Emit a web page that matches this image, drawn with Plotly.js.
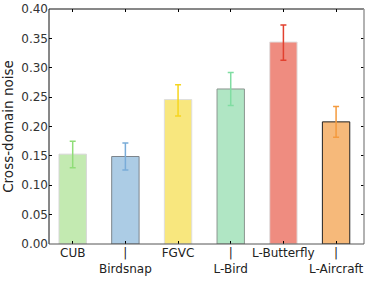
<!DOCTYPE html>
<html>
<head>
<meta charset="utf-8">
<script src="https://cdn.plot.ly/plotly-3.0.1.min.js"></script>
<style>html,body{margin:0;padding:0;background:#fff;}#chart{width:366px;height:281px;}</style>
</head>
<body>
<div id="chart"></div>
<script>
var categories = ["CUB", "Birdsnap", "FGVC", "L-Bird", "L-Butterfly", "L-Aircraft"];
var tickLabels = ["CUB", "|<br>Birdsnap", "FGVC", "|<br>L-Bird", "L-Butterfly", "|<br>L-Aircraft"];
var noiseValues = [0.153, 0.149, 0.246, 0.264, 0.344, 0.208];
var errorUpper = [0.022, 0.023, 0.025, 0.028, 0.029, 0.026];
var errorLower = [0.023, 0.023, 0.028, 0.028, 0.031, 0.026];
var yTicks = [0, 0.05, 0.10, 0.15, 0.20, 0.25, 0.30, 0.35, 0.40];
var barColors = ["#c3eab1", "#accce5", "#f8e77e", "#b0e6c4", "#ef8c80", "#f6b97a"];
var edgeColors = ["#d6d6d6", "#7d858c", "#dedede", "#8c9690", "#e0e0e0", "#222222"];
var errColors = ["#90dd78", "#79acd8", "#f6d51e", "#80dda2", "#e2412f", "#f49a3e"];

var x = categories.map(function(c, i){ return i; });
var traces = [];
for (var i = 0; i < categories.length; i++) {
  traces.push({
    type: "bar",
    x: [x[i]],
    y: [noiseValues[i]],
    width: 0.52,
    marker: {color: barColors[i], line: {color: edgeColors[i], width: 1}},
    error_y: {type: "data", symmetric: false, array: [errorUpper[i]], arrayminus: [errorLower[i]],
              color: errColors[i], thickness: 1.5, width: 3},
    showlegend: false,
    hoverinfo: "skip"
  });
}

var font = "'DejaVu Sans', sans-serif";
var layout = {
  width: 366, height: 281,
  margin: {l: 49, r: 2, t: 9, b: 37},
  paper_bgcolor: "#fff", plot_bgcolor: "#fff",
  barmode: "overlay",
  font: {family: font, size: 12, color: "#222"},
  xaxis: {
    range: [-0.45, 5.53],
    tickmode: "array", tickvals: x, ticktext: tickLabels, tickangle: 0,
    ticks: "inside", ticklen: 3, tickcolor: "#000", mirror: "ticks",
    showline: false, showgrid: false, zeroline: false,
    tickfont: {family: font, size: 12, color: "#222"}
  },
  yaxis: {
    range: [0, 0.4002],
    tickmode: "array", tickvals: yTicks,
    tickformat: ".2f",
    ticks: "inside", ticklen: 3, tickcolor: "#000", mirror: "ticks",
    showline: false, showgrid: false, zeroline: false,
    tickfont: {family: font, size: 12, color: "#333"},
    title: {text: "Cross-domain noise", font: {family: font, size: 13.5, color: "#222"}, standoff: 8}
  },
  shapes: [
    {type: "line", xref: "paper", yref: "paper", x0: 0, x1: 0, y0: 0, y1: 1, line: {color: "#111", width: 1}},
    {type: "line", xref: "paper", yref: "paper", x0: 0, x1: 1, y0: 1, y1: 1, line: {color: "#111", width: 1}},
    {type: "line", xref: "paper", yref: "paper", x0: 1, x1: 1, y0: 0, y1: 1, line: {color: "#999", width: 1.5}},
    {type: "line", xref: "paper", yref: "paper", x0: 0, x1: 1, y0: 0, y1: 0, line: {color: "#555", width: 1}}
  ]
};
Plotly.newPlot("chart", traces, layout, {displayModeBar: false, staticPlot: true});
</script>
</body>
</html>
